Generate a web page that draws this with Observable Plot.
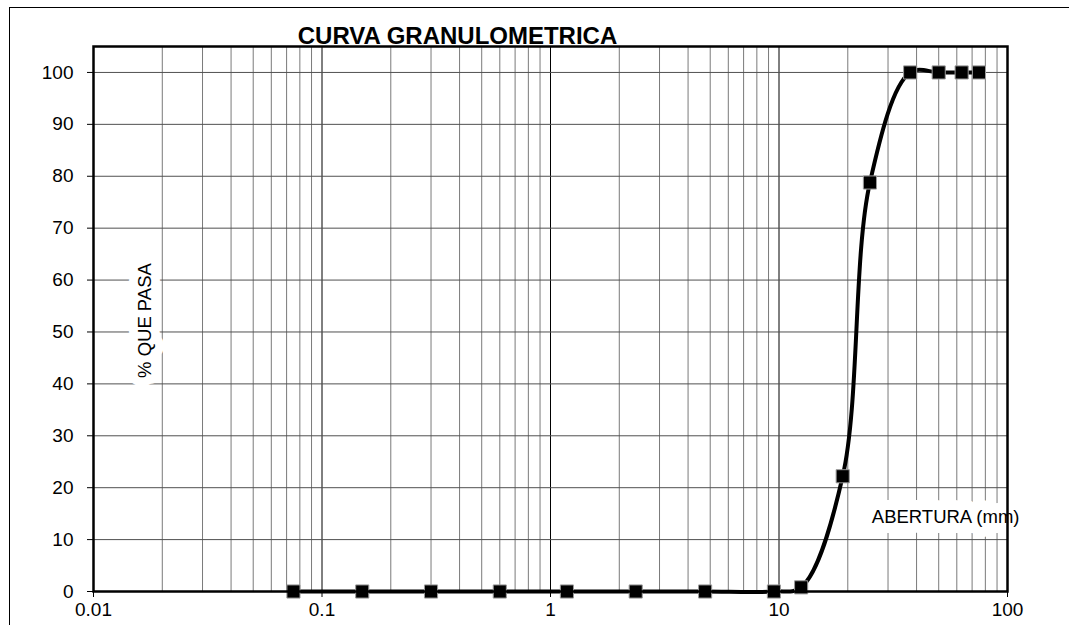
<!DOCTYPE html>
<html><head><meta charset="utf-8">
<script src="https://cdn.jsdelivr.net/npm/d3@7"></script>
<script src="https://cdn.jsdelivr.net/npm/@observablehq/plot@0.6"></script>
<style>
body{margin:0;background:#fff;overflow:hidden;font-family:"Liberation Sans",Arial,sans-serif;}
#wrap{position:relative;width:1069px;height:625px;overflow:hidden;}
#border{position:absolute;left:9px;top:7px;width:1200px;height:800px;border:1.5px solid #000;pointer-events:none;}
</style></head><body>
<div id="wrap"><div id="chart"></div><div id="border"></div></div>
<script>
// Sieve openings (mm) and percent passing
const sieveSizes = [0.075, 0.15, 0.3, 0.6, 1.18, 2.36, 4.75, 9.5, 12.5, 19, 25, 37.5, 50, 63, 75];
const percentPassing = [0, 0, 0, 0, 0, 0, 0, 0, 0.8, 22.2, 78.8, 100, 100, 100, 100];
const xTicks = [0.01, 0.1, 1, 10, 100];
const xTickLabels = ["0.01", "0.1", "1", "10", "100"];
const yTicks = [0, 10, 20, 30, 40, 50, 60, 70, 80, 90, 100];
const minorMultipliers = [2, 3, 4, 5, 6, 7, 8, 9];
const chartTitle = "CURVA GRANULOMETRICA";
const yLabel = "% QUE PASA";
const xLabel = "ABERTURA (mm)";

const data = sieveSizes.map((s, i) => ({size: s, pass: percentPassing[i]}));
const minorGrid = xTicks.slice(0, -1).flatMap(d => minorMultipliers.map(k => k * d));

const font = "'Liberation Sans', Arial, sans-serif";

const chart = Plot.plot({
  width: 1069,
  height: 625,
  marginLeft: 93,
  marginRight: 62,
  marginTop: 46,
  marginBottom: 34,
  style: {fontFamily: font, fontSize: "19px", background: "transparent", color: "#000"},
  x: {type: "log", domain: [0.01, 100]},
  y: {domain: [0, 105]},
  marks: [
    Plot.ruleX(minorGrid, {stroke: "#7a7a7a", strokeWidth: 1}),
    Plot.ruleX(xTicks, {stroke: "#000", strokeWidth: 1}),
    Plot.ruleY(yTicks, {stroke: "#505050", strokeWidth: 1}),
    Plot.axisY(yTicks, {tickSize: 6, tickPadding: 14, fontSize: 19, label: null, tickFormat: d => String(d)}),
    Plot.axisX(xTicks, {tickSize: 6, tickPadding: 5, fontSize: 19, label: null, tickFormat: d => xTickLabels[xTicks.indexOf(d)]}),
    Plot.text([yLabel], {x: 0.0169, y: 52.2, text: d => d, rotate: -90, fontSize: 18.5, fill: "#000", stroke: "white", strokeWidth: 18, textAnchor: "middle", lineAnchor: "middle"}),
    Plot.text([xLabel], {x: 53.6, y: 14.4, text: d => d, fontSize: 18.5, fill: "#000", stroke: "white", strokeWidth: 20, textAnchor: "middle", lineAnchor: "middle"}),
    Plot.line(data, {x: "size", y: "pass", curve: "catmull-rom", stroke: "#000", strokeWidth: 4}),
    Plot.dot(data, {x: "size", y: "pass", symbol: "square", r: 7.4, fill: "#000", stroke: "#9a9a9a", strokeWidth: 1}),
    Plot.frame({stroke: "#000", strokeWidth: 2.5}),
    Plot.text([chartTitle], {frameAnchor: "top-left", dx: 364, dy: -3, text: d => d, fontSize: 24, fontWeight: "bold", fill: "#000", textAnchor: "middle", lineAnchor: "bottom"})
  ]
});
document.getElementById("chart").appendChild(chart);
</script>
</body></html>
